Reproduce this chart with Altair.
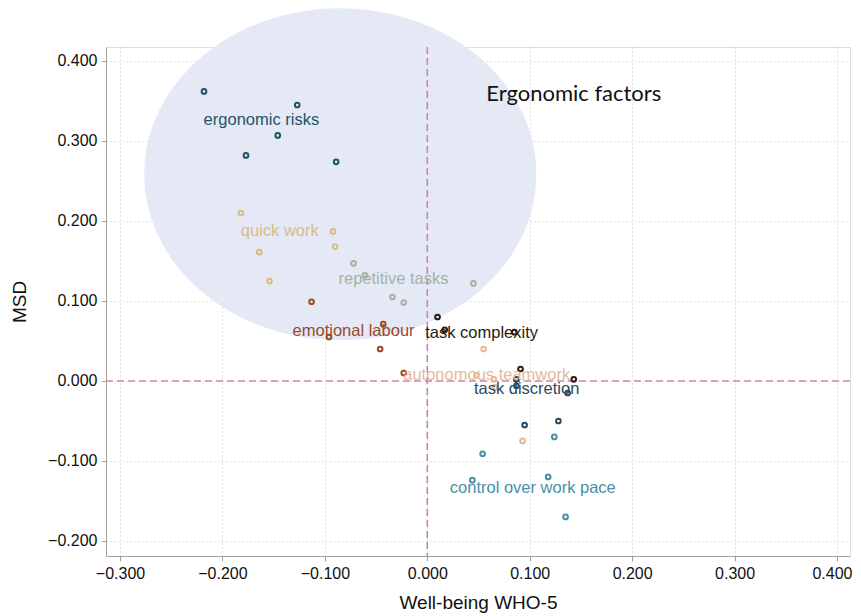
import altair as alt
import pandas as pd

# ---- data ----
groups = ["ergonomic risks", "quick work", "repetitive tasks", "emotional labour",
          "task complexity", "autonomous teamwork", "task discretion",
          "control over work pace"]
colors = ["#1f5468", "#d8bc84", "#a3b3a5", "#994b2b",
          "#2b1b12", "#e8b898", "#2c4a5f", "#4a8fa6"]

wb_ergonomic = [-0.218, -0.127, -0.146, -0.177, -0.089]
msd_ergonomic = [0.362, 0.345, 0.307, 0.282, 0.274]
wb_quick = [-0.182, -0.092, -0.090, -0.164, -0.154]
msd_quick = [0.210, 0.187, 0.168, 0.161, 0.125]
wb_repetitive = [-0.072, -0.061, -0.034, -0.023, 0.045]
msd_repetitive = [0.147, 0.132, 0.105, 0.098, 0.122]
wb_emotional = [-0.113, -0.043, -0.096, -0.046, -0.023]
msd_emotional = [0.099, 0.071, 0.055, 0.040, 0.010]
wb_complexity = [0.010, 0.017, 0.085, 0.091, 0.143]
msd_complexity = [0.080, 0.064, 0.061, 0.015, 0.002]
wb_teamwork = [0.055, 0.048, 0.065, 0.066, 0.093]
msd_teamwork = [0.040, 0.007, 0.002, -0.008, -0.075]
wb_discretion = [0.087, 0.087, 0.137, 0.095, 0.128]
msd_discretion = [0.002, -0.006, -0.015, -0.055, -0.050]
wb_pace = [0.124, 0.054, 0.044, 0.118, 0.135]
msd_pace = [-0.070, -0.091, -0.124, -0.120, -0.170]

label_x = [-0.162, -0.144, -0.033, -0.072, 0.053, 0.058, 0.097, 0.103]
label_y = [0.326, 0.187, 0.128, 0.062, 0.060, 0.008, -0.010, -0.134]

x_ticks = [-0.3, -0.2, -0.1, 0.0, 0.1, 0.2, 0.3, 0.4]
y_ticks = [-0.2, -0.1, 0.0, 0.1, 0.2, 0.3, 0.4]

annotation_text = ["Ergonomic factors"]
annotation_x = [0.143]
annotation_y = [0.359]

ellipse_cx = [-0.0850]
ellipse_cy = [0.2585]

# ---- build tables ----
wb_all = [wb_ergonomic, wb_quick, wb_repetitive, wb_emotional,
          wb_complexity, wb_teamwork, wb_discretion, wb_pace]
msd_all = [msd_ergonomic, msd_quick, msd_repetitive, msd_emotional,
           msd_complexity, msd_teamwork, msd_discretion, msd_pace]
rows = []
for g, xs, ys in zip(groups, wb_all, msd_all):
    for a, b in zip(xs, ys):
        rows.append({"group": g, "wb": a, "msd": b})
points = pd.DataFrame(rows)
labels = pd.DataFrame({"group": groups, "wb": label_x, "msd": label_y})
annot = pd.DataFrame({"text": annotation_text, "wb": annotation_x, "msd": annotation_y})
ell = pd.DataFrame({"wb": ellipse_cx, "msd": ellipse_cy})

xscale = alt.Scale(domain=[-0.3137, 0.4127], nice=False, zero=False)
yscale = alt.Scale(domain=[-0.2188, 0.4175], nice=False, zero=False)
cscale = alt.Scale(domain=groups, range=colors)

X = alt.X("wb:Q", scale=xscale,
          axis=alt.Axis(values=x_ticks, format=".3f", title="Well-being WHO-5",
                        grid=True, gridDash=[1, 3], gridColor="#c4c4c4",
                        domainColor="#a0a0a0", tickColor="#a0a0a0", tickSize=5,
                        labelFontSize=16, titleFontSize=19, labelPadding=4,
                        titlePadding=12, labelColor="#111", titleColor="#111",
                        titleFontWeight="normal", labelFont="Liberation Sans",
                        titleFont="Liberation Sans", labelFlush=13.5,
                        labelFlushOffset=15))
Y = alt.Y("msd:Q", scale=yscale,
          axis=alt.Axis(values=y_ticks, format=".3f", title="MSD",
                        grid=True, gridDash=[1, 3], gridColor="#c4c4c4",
                        domainColor="#a0a0a0", tickColor="#a0a0a0", tickSize=5,
                        labelFontSize=16, titleFontSize=19, labelPadding=4,
                        titlePadding=18, labelColor="#111", titleColor="#111",
                        titleFontWeight="normal", labelFont="Liberation Sans",
                        titleFont="Liberation Sans", labelFlush=False))

ellipse_path = "M -1 0 A 1 0.847 0 1 1 1 0 A 1 0.847 0 1 1 -1 0 Z"
ellipse = alt.Chart(ell).mark_point(
    shape=ellipse_path, filled=True, size=153664, color="#e5e9f5", opacity=1,
    strokeWidth=0
).encode(x=X, y=Y)

vline = alt.Chart(pd.DataFrame({"wb": [0.0]})).mark_rule(
    color="#c784b4", strokeDash=[7, 4], strokeWidth=1.6
).encode(x="wb:Q")
hline = alt.Chart(pd.DataFrame({"msd": [0.0]})).mark_rule(
    color="#d08a9c", strokeDash=[7, 4], strokeWidth=1.4
).encode(y="msd:Q")

pts = alt.Chart(points).mark_point(
    filled=False, size=22, strokeWidth=2, opacity=1
).encode(x=X, y=Y, color=alt.Color("group:N", scale=cscale, legend=None))

txt = alt.Chart(labels).mark_text(
    font="Liberation Sans", fontSize=16.5, align="center", baseline="middle"
).encode(x=X, y=Y, text="group:N",
         color=alt.Color("group:N", scale=cscale, legend=None))

ann = alt.Chart(annot).mark_text(
    font="Lato", fontSize=22, align="center", baseline="middle", color="#111"
).encode(x=X, y=Y, text="text:N")

chart = alt.layer(ellipse, vline, hline, pts, txt, ann).properties(
    width=744, height=509,
    autosize=alt.AutoSizeParams(type="none"),
    padding={"left": 98, "top": 39, "right": 3, "bottom": 59},
).configure_view(stroke=None).configure(background="white")

chart.save("out.html", embed_options={"renderer": "svg", "actions": False})
